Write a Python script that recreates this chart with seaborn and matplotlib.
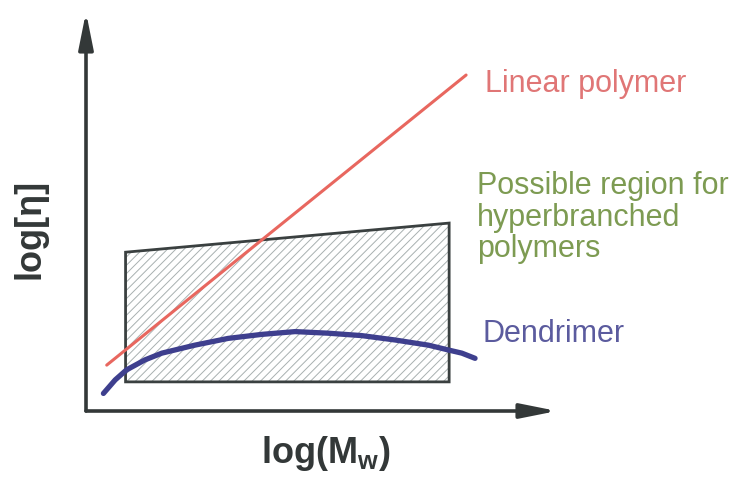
import numpy as np
import pandas as pd
import matplotlib.pyplot as plt
import seaborn as sns

# schematic values in arbitrary log units (axes run 0..10)
linear_x = [0.44, 8.07]
linear_y = [1.15, 8.42]

dendrimer_x = [0.37, 0.62, 0.86, 1.25, 1.61, 2.31, 3.02, 3.73, 4.44, 5.14,
               5.85, 6.56, 7.27, 7.69, 7.98, 8.26]
dendrimer_y = [0.44, 0.78, 1.03, 1.28, 1.45, 1.65, 1.82, 1.92, 1.99, 1.95,
               1.89, 1.78, 1.65, 1.53, 1.45, 1.32]

region_x = [0.84, 7.71, 7.71, 0.84]
region_y = [0.73, 0.73, 4.71, 3.98]

sns.set_style("white")
plt.rcParams["font.family"] = ["Liberation Sans", "DejaVu Sans"]
plt.rcParams["mathtext.fontset"] = "custom"
plt.rcParams["mathtext.rm"] = "Liberation Sans:bold"
plt.rcParams["hatch.linewidth"] = 0.7

fig = plt.figure(figsize=(7.48, 4.78), dpi=100)
ax = fig.add_axes([86 / 748, 67 / 478, 471 / 748, 399 / 478])

# hatched region for hyperbranched polymers
ax.fill(region_x, region_y, facecolor="white", edgecolor="#a8b0b0",
        hatch="////", linewidth=0, zorder=1)
ax.fill(region_x, region_y, facecolor="none", edgecolor="#3a4040",
        linewidth=2, zorder=2)

lin = pd.DataFrame({"x": linear_x, "y": linear_y})
den = pd.DataFrame({"x": dendrimer_x, "y": dendrimer_y})
sns.lineplot(data=lin, x="x", y="y", color="#e8675f", linewidth=2.2, ax=ax,
             zorder=3, solid_capstyle="round")
sns.lineplot(data=den, x="x", y="y", color="#3e3f8e", linewidth=3.8, ax=ax,
             sort=False, zorder=4, solid_capstyle="round", solid_joinstyle="round")
ax.set_xlim(0, 10)
ax.set_ylim(0, 10)
ax.axis("off")

# axes with arrows
arrow = dict(arrowstyle="-|>,head_length=1.1,head_width=0.22", lw=2.6,
             color="#333838", shrinkA=0, shrinkB=0, mutation_scale=20)
ax.annotate("", xy=(0, 10), xytext=(0, 0), arrowprops=arrow, annotation_clip=False)
ax.annotate("", xy=(10, 0), xytext=(0, 0), arrowprops=arrow, annotation_clip=False)

ax.text(8.47, 8.0, "Linear polymer", color="#e07676", fontsize=22,
        va="baseline", ha="left", clip_on=False)
ax.text(8.30, 3.86, "Possible region for\nhyperbranched\npolymers", color="#7d9b52",
        fontsize=22, va="baseline", ha="left", linespacing=1.06, clip_on=False)
ax.text(8.41, 1.73, "Dendrimer", color="#5b5b9e", fontsize=22,
        va="baseline", ha="left", clip_on=False)

fig.text(30 / 748, 1 - 229 / 478, "log[η]", rotation=90, fontsize=26,
         fontweight="bold", color="#333838", ha="center", va="center")
fig.text(326 / 748, 1 - 463 / 478, r"log(M$_\mathregular{w}$)", fontsize=26,
         fontweight="bold", color="#333838", ha="center", va="baseline")

fig.savefig("out.png", dpi=100, facecolor="white")
